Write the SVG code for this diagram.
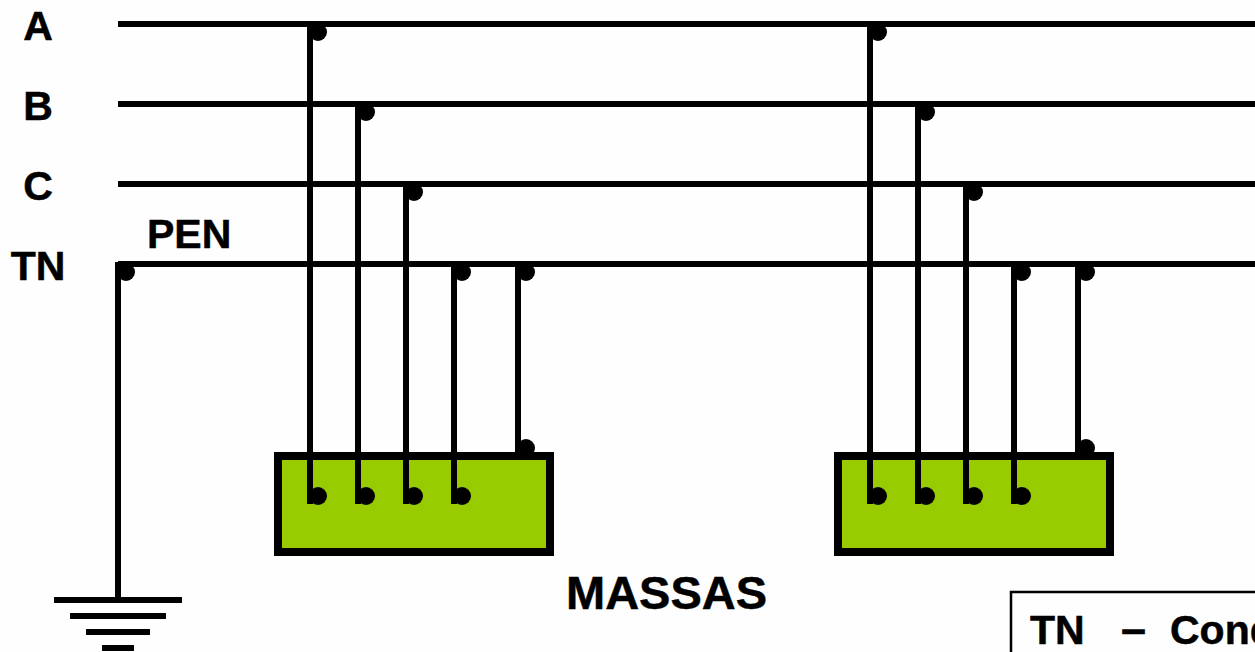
<svg xmlns="http://www.w3.org/2000/svg" width="1255" height="652" viewBox="0 0 1255 652">
<style>
.w{stroke:#000;stroke-width:6;fill:none}
.d{fill:#000}
.box{fill:#99CC00;stroke:#000;stroke-width:8}
.t{font-family:"Liberation Sans",Arial,sans-serif;font-weight:bold;font-size:41px;fill:#000;stroke:#000;stroke-width:0.5}
.m{text-anchor:middle}
</style>
<defs>
<g id="tap">
<path class="w" d="M310 24V504M358 104V504M406 184V504M454 264V504M518 264V452"/>
</g>
<g id="dots">
<circle class="d" cx="318" cy="32" r="9"/>
<circle class="d" cx="366" cy="112" r="9"/>
<circle class="d" cx="414" cy="192" r="9"/>
<circle class="d" cx="462" cy="272" r="9"/>
<circle class="d" cx="526" cy="272" r="9"/>
<circle class="d" cx="526" cy="448" r="9"/>
<circle class="d" cx="318" cy="496" r="9"/>
<circle class="d" cx="366" cy="496" r="9"/>
<circle class="d" cx="414" cy="496" r="9"/>
<circle class="d" cx="462" cy="496" r="9"/>
</g>
</defs>
<rect width="1255" height="652" fill="#fefefe"/>
<g id="massa-1"><rect class="box" x="278" y="456" width="272" height="96"/></g>
<g id="massa-2"><rect class="box" x="838" y="456" width="272" height="96"/></g>
<g id="connectors">
<path class="w" d="M118 24H1255M118 104H1255M118 184H1255M118 264H1255"/>
<path class="w" d="M118 262V600"/>
<use href="#tap"/>
<use href="#tap" x="560"/>
</g>
<g id="junctions">
<circle class="d" cx="126" cy="272" r="9"/>
<use href="#dots"/>
<use href="#dots" x="560"/>
</g>
<g id="ground">
<path class="w" d="M54 600H182M70 616H166M86 632H150M102 648H134"/>
</g>
<g id="labels">
<text class="t m" x="38" y="40">A</text>
<text class="t m" x="38" y="120">B</text>
<text class="t m" x="38" y="200">C</text>
<text class="t m" x="38" y="280">TN</text>
<text class="t" x="147" y="248">PEN</text>
<text class="t" x="566" y="609" style="font-size:47px">MASSAS</text>
</g>
<g id="legend">
<rect x="1011" y="592" width="300" height="100" fill="#fefefe" stroke="#000" stroke-width="2.5"/>
<text class="t" x="1030" y="644">TN</text>
<text class="t" x="1121" y="644" style="font-size:45px">–</text>
<text class="t" x="1170" y="644">Cond</text>
</g>
</svg>
